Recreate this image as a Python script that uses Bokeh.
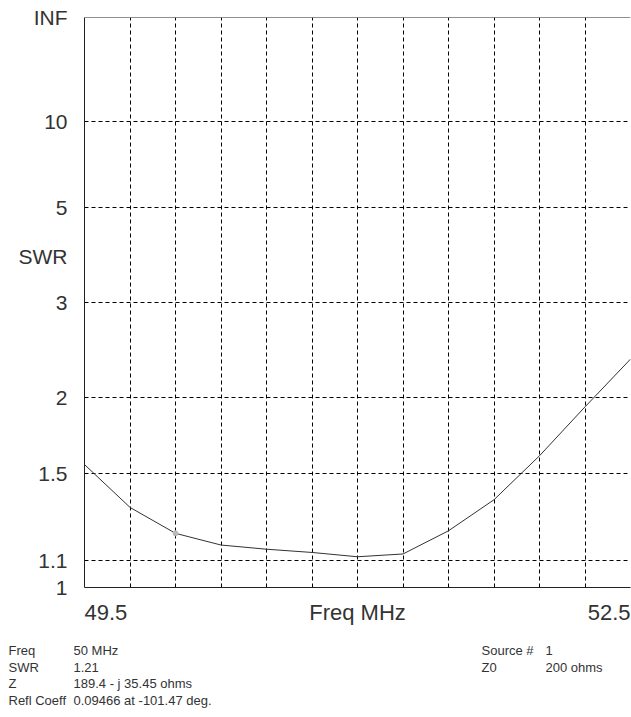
from bokeh.plotting import figure
from bokeh.models import Range1d, FixedTicker, Span
from bokeh.core.properties import value
from bokeh.embed import file_html
from bokeh.resources import INLINE

# ---- data ----
freq_mhz = [49.5, 49.75, 50.0, 50.25, 50.5, 50.75, 51.0, 51.25, 51.5, 51.75, 52.0, 52.25, 52.5]
swr = [1.55, 1.327, 1.21, 1.161, 1.144, 1.131, 1.114, 1.125, 1.221, 1.364, 1.601, 1.928, 2.337]
cursor_freq = [50.0]
cursor_swr = [1.21]
swr_ticks = [1.0, 1.1, 1.5, 2.0, 3.0, 5.0, 10.0]
swr_tick_labels = ["1", "1.1", "1.5", "2", "3", "5", "10"]
inf_label = "INF"
y_title = "SWR"
y_title_swr = 3.77  # height on the SWR scale where the title sits
grid_freqs = [49.75, 50.0, 50.25, 50.5, 50.75, 51.0, 51.25, 51.5, 51.75, 52.0, 52.25]
x_label_freqs = [49.5, 51.0, 52.5]
x_labels = ["49.5", "Freq MHz", "52.5"]
info_left_keys = ["Freq", "SWR", "Z", "Refl Coeff"]
info_left_vals = ["50 MHz", "1.21", "189.4 - j 35.45 ohms", "0.09466 at -101.47 deg."]
info_right_keys = ["Source #", "Z0"]
info_right_vals = ["1", "200 ohms"]


def rho(s):
    return (s - 1.0) / (s + 1.0)


FONT = "Liberation Sans"
TXT = "#333333"
W, H = 631, 717
FL, FT, FH = 84, 17, 570
MAIN_H = FT + FH + 13
BOT_H = H - MAIN_H
X0, X1 = 49.5, 52.5

p = figure(width=W, height=MAIN_H, output_backend="svg", toolbar_location=None,
           x_range=Range1d(X0, X1), y_range=Range1d(0.0, 1.0),
           min_border_left=FL, min_border_right=1, min_border_top=FT,
           min_border_bottom=MAIN_H - FT - FH)
p.outline_line_color = None
p.background_fill_color = "white"
p.border_fill_color = "white"

# y axis with SWR labels on reflection-coefficient scale
ytick_pos = [rho(s) for s in swr_ticks] + [1.0, rho(y_title_swr)]
ytick_txt = swr_tick_labels + [inf_label, y_title]
p.yaxis.ticker = FixedTicker(ticks=ytick_pos)
p.yaxis.major_label_overrides = {v: l for v, l in zip(ytick_pos, ytick_txt)}
p.yaxis.major_tick_line_color = None
p.yaxis.major_tick_out = 0
p.yaxis.minor_tick_line_color = None
p.yaxis.axis_line_color = "#222222"
p.yaxis.major_label_text_font = FONT
p.yaxis.major_label_text_font_size = "21px"
p.yaxis.major_label_text_color = TXT
p.yaxis.major_label_standoff = 17

p.xaxis.ticker = FixedTicker(ticks=[])
p.xaxis.major_tick_line_color = None
p.xaxis.major_tick_out = 0
p.xaxis.minor_tick_line_color = None
p.xaxis.axis_line_color = "#222222"
p.xaxis.major_label_text_font_size = "0px"
p.xaxis.major_label_standoff = 0

# grids
p.xgrid.ticker = FixedTicker(ticks=grid_freqs)
p.ygrid.ticker = FixedTicker(ticks=[rho(s) for s in swr_ticks[1:]])
for g in (p.xgrid, p.ygrid):
    g.grid_line_color = "black"
    g.grid_line_dash = "4 3"
    g.grid_line_width = 1

p.add_layout(Span(location=1.0, dimension="width", line_color="#222222", line_width=1))

# curve
p.line(freq_mhz, [rho(s) for s in swr], line_color="#333333", line_width=1)
p.scatter(cursor_freq, [rho(s) for s in cursor_swr], size=5, color="#bbbbbb")

# ---- bottom panel (separate root): x labels and readout ----
mhz_per_px = (X1 - X0) / (W - 1 - FL)
b = figure(width=W, height=BOT_H, output_backend="svg", toolbar_location=None,
           x_range=Range1d(X0 - FL * mhz_per_px, X1 + 1 * mhz_per_px),
           y_range=Range1d(BOT_H, 0),
           min_border_left=0, min_border_right=0, min_border_top=0, min_border_bottom=0)
b.extra_x_ranges = {"px": Range1d(0, W)}
b.axis.visible = False
b.grid.visible = False
b.outline_line_color = None
b.border_fill_color = "white"
b.background_fill_color = "white"

xl_y = 611.5 - MAIN_H
for xv, lab, al in zip(x_label_freqs, x_labels, ["left", "center", "right"]):
    b.text(x=[xv], y=[xl_y], text=[lab], text_font=value(FONT), text_font_size="22px",
           text_color=TXT, text_baseline="middle", text_align=al)

row_y = [650 - MAIN_H, 667 - MAIN_H, 683 - MAIN_H, 700 - MAIN_H]
n_l = len(info_left_keys)
b.text(x=[8] * n_l, y=row_y[:n_l], text=info_left_keys, x_range_name="px",
       text_font=value(FONT), text_font_size="13px", text_color=TXT, text_baseline="middle")
b.text(x=[73] * n_l, y=row_y[:n_l], text=info_left_vals, x_range_name="px",
       text_font=value(FONT), text_font_size="13px", text_color=TXT, text_baseline="middle")
n_r = len(info_right_keys)
b.text(x=[481] * n_r, y=row_y[:n_r], text=info_right_keys, x_range_name="px",
       text_font=value(FONT), text_font_size="13px", text_color=TXT, text_baseline="middle")
b.text(x=[545] * n_r, y=row_y[:n_r], text=info_right_vals, x_range_name="px",
       text_font=value(FONT), text_font_size="13px", text_color=TXT, text_baseline="middle")

open("out.html", "w").write(file_html([p, b], INLINE))
